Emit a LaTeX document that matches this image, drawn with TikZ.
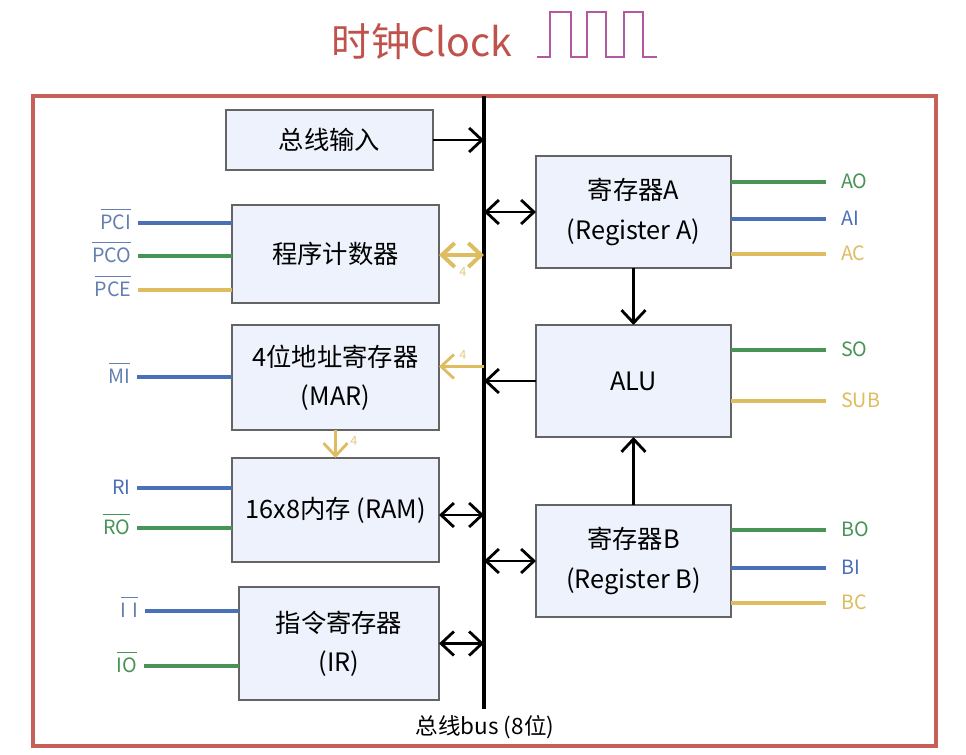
\documentclass[tikz,border=0pt]{standalone}
\usepackage{fontspec}
\setmainfont{Noto Sans CJK SC}
\usetikzlibrary{arrows.meta,calc}

\definecolor{titlered}{RGB}{192,82,76}
\definecolor{framered}{RGB}{200,96,90}
\definecolor{clkpurple}{RGB}{180,88,160}
\definecolor{boxgray}{RGB}{100,100,100}
\definecolor{boxfill}{RGB}{238,242,252}
\definecolor{sigblue}{RGB}{74,112,184}
\definecolor{lblblue}{RGB}{100,128,178}
\definecolor{siggreen}{RGB}{72,148,86}
\definecolor{siggold}{RGB}{222,188,96}

\newcommand\ovl[1]{$\overline{\mbox{#1}\rule{0pt}{13pt}}$}

\tikzset{
    blk/.style={draw=boxgray, fill=boxfill, line width=0.9pt, inner sep=0pt,
        outer sep=0pt, align=center, font=\fontsize{18}{28}\selectfont},
    sigL/.style={anchor=east, inner xsep=0.16cm, inner ysep=0pt,
        text height=9.5pt, text depth=0pt, font=\fontsize{14}{17}\selectfont},
    sigR/.style={anchor=west, inner xsep=0.37cm, inner ysep=0pt,
        text height=9.5pt, text depth=0pt, font=\fontsize{14}{17}\selectfont},
    wire/.style={line width=2.3pt},
    arr/.style={line width=2pt, black},
    goldarr/.style={line width=2pt, siggold},
    wid/.style={font=\fontsize{9}{10}\selectfont, text=siggold!80, inner sep=1pt},
    >={Straight Barb[length=0.32cm,width=0.6cm]}
}

\begin{document}
\begin{tikzpicture}[x=0.025cm,y=-0.025cm]
    \useasboundingbox[fill=white] (0,0) rectangle (966,755);

    % Title and clock wave
    \node[text=titlered, font=\fontsize{28}{30}\selectfont] (title) at (422,42) {时钟Clock};
    \draw[clkpurple, line width=1.6pt] (537,57) -- (550,57) -- (550,12) -- (571,12) -- (571,57)
        -- (587,57) -- (587,12) -- (606,12) -- (606,57) -- (624,57) -- (624,12)
        -- (643,12) -- (643,57) -- (657,57);

    % Frame
    \draw[framered, line width=2.4pt] (33,96) rectangle (936,746);

    % Bus
    \coordinate (bustop) at (484,96);
    \coordinate (busbot) at (484,709);
    \draw[line width=2.8pt] (bustop) -- (busbot);
    \node[font=\fontsize{16}{18}\selectfont] (buslbl) at (485,727) {总线bus (8位)};

    % Left blocks
    \node[blk, minimum width=5.175cm, minimum height=1.5cm] (in) at (329.5,140) {总线输入};
    \node[blk, minimum width=5.175cm, minimum height=2.45cm] (pc) at (335.5,254) {程序计数器};
    \node[blk, minimum width=5.175cm, minimum height=2.625cm] (mar) at (335.5,377.5) {4位地址寄存器\\(MAR)};
    \node[blk, minimum width=5.175cm, minimum height=2.6cm] (ram) at (335.5,510) {16x8内存 (RAM)};
    \node[blk, minimum width=5cm, minimum height=2.825cm] (ir) at (339,643.5) {指令寄存器\\(IR)};

    % Right blocks
    \node[blk, minimum width=4.875cm, minimum height=2.8cm] (rega) at (633.5,212) {寄存器A\\(Register A)};
    \node[blk, minimum width=4.875cm, minimum height=2.8cm] (alu) at (633.5,381) {ALU};
    \node[blk, minimum width=4.875cm, minimum height=2.8cm] (regb) at (633.5,561) {寄存器B\\(Register B)};

    % Bus connections
    \draw[arr, ->] (in.east) -- (in.east -| bustop);
    \draw[arr, <->] (rega.west -| bustop) -- (rega.west);
    \draw[goldarr, <->, line width=2.8pt] ($(pc.east)+(0,1)$) -- ($(pc.east -| bustop)+(0,1)$);
    \node[wid] (wpc) at (463,272) {4};
    \draw[goldarr, ->] ($(mar.east -| bustop)+(0,-11)$) -- ($(mar.east)+(0,-11)$);
    \node[wid] (wmar) at (463,355) {4};
    \draw[arr, ->] (alu.west) -- (alu.west -| bustop);
    \draw[arr, <->] ($(ram.east)+(0,5)$) -- ($(ram.east -| bustop)+(0,5)$);
    \draw[arr, <->] (regb.west -| bustop) -- (regb.west);
    \draw[arr, <->] (ir.east) -- (ir.east -| bustop);

    % Between blocks
    \draw[arr, ->] (rega.south) -- (alu.north);
    \draw[arr, ->] (regb.north) -- (alu.south);
    \draw[goldarr, ->] (mar.south) -- (ram.north);
    \node[wid] (wram) at (354,441) {4};

    % Left control signals
    \node[sigL, text=lblblue] (pci) at (138,223) {\ovl{PCI}};
    \node[sigL, text=lblblue] (pco) at (138,256) {\ovl{PCO}};
    \node[sigL, text=lblblue] (pce) at (138,290) {\ovl{PCE}};
    \draw[wire, sigblue] (pci.east) -- (pc.west |- pci.east);
    \draw[wire, siggreen] (pco.east) -- (pc.west |- pco.east);
    \draw[wire, siggold] (pce.east) -- (pc.west |- pce.east);

    \node[sigL, text=lblblue] (mi) at (137,377) {\ovl{MI}};
    \draw[wire, sigblue] (mi.east) -- (mar.west |- mi.east);

    \node[sigL, text=sigblue] (ri) at (137,488) {RI};
    \node[sigL, text=siggreen] (ro) at (137,528) {\ovl{RO}};
    \draw[wire, sigblue] (ri.east) -- (ram.west |- ri.east);
    \draw[wire, siggreen] (ro.east) -- (ram.west |- ro.east);

    \node[sigL, text=lblblue] (ii) at (145,611) {\ovl{I\hspace{0.3em}I}};
    \node[sigL, text=siggreen] (io) at (144,666) {\ovl{IO}};
    \draw[wire, sigblue] (ii.east) -- (ir.west |- ii.east);
    \draw[wire, siggreen] (io.east) -- (ir.west |- io.east);

    % Right control signals
    \node[sigR, text=siggreen] (ao) at (826,182) {AO};
    \node[sigR, text=sigblue] (ai) at (826,219) {AI};
    \node[sigR, text=siggold] (ac) at (826,254) {AC};
    \draw[wire, siggreen] (rega.east |- ao.west) -- (ao.west);
    \draw[wire, sigblue] (rega.east |- ai.west) -- (ai.west);
    \draw[wire, siggold] (rega.east |- ac.west) -- (ac.west);

    \node[sigR, text=siggreen] (so) at (826,350) {SO};
    \node[sigR, text=siggold] (sub) at (826,401) {SUB};
    \draw[wire, siggreen] (alu.east |- so.west) -- (so.west);
    \draw[wire, siggold] (alu.east |- sub.west) -- (sub.west);

    \node[sigR, text=siggreen] (bo) at (826,530) {BO};
    \node[sigR, text=sigblue] (bi) at (826,568) {BI};
    \node[sigR, text=siggold] (bc) at (826,603) {BC};
    \draw[wire, siggreen] (regb.east |- bo.west) -- (bo.west);
    \draw[wire, sigblue] (regb.east |- bi.west) -- (bi.west);
    \draw[wire, siggold] (regb.east |- bc.west) -- (bc.west);
\end{tikzpicture}
\end{document}
